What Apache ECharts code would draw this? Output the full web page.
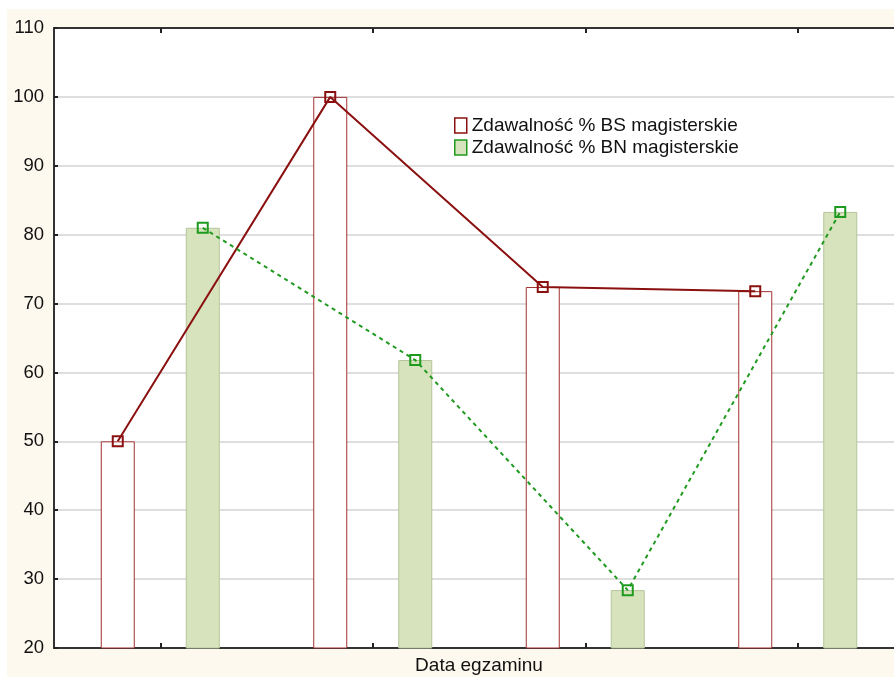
<!DOCTYPE html>
<html>
<head>
<meta charset="utf-8">
<script src="https://cdn.jsdelivr.net/npm/echarts@6/dist/echarts.min.js"></script>
<style>
html,body{margin:0;padding:0;background:#fff;}
#wrap{position:relative;width:894px;height:677px;overflow:hidden;}
#bg{position:absolute;left:7px;top:9px;right:0;bottom:0;background:#fef9ee;}
#plot{position:absolute;left:54px;top:28px;right:0;bottom:29px;background:#fff;}
#chart{position:absolute;left:0;top:0;width:894px;height:677px;}
</style>
</head>
<body>
<div id="wrap"><div id="bg"></div><div id="plot"></div><div id="chart"></div></div>
<script>
const categories = ['Termin 1', 'Termin 2', 'Termin 3', 'Termin 4'];
const bsValues = [50, 100, 72.4, 71.8];
const bnValues = [81, 61.8, 28.4, 83.3];
const seriesNames = ['Zdawalność % BS magisterskie', 'Zdawalność % BN magisterskie'];
const yTicks = { min: 20, max: 110, interval: 10 };

const gridLeft = 54, gridTop = 28, gridWidth = 850, gridHeight = 620;
const barW = 34, gapW = 51;
const catW = gridWidth / categories.length;
const off = (barW + gapW) / 2 / catW;

const bsLine = bsValues.map((v, i) => [i - off, v]);
const bnLine = bnValues.map((v, i) => [i + off, v]);

const BS_DARK = '#8b1010', BS_BORDER = '#a33030';
const BN_DARK = '#1f9a1f', BN_FILL = '#d7e3bd', BN_BORDER = '#b4c59a';
const FONT = 'Liberation Sans, Arial, sans-serif';

const chart = echarts.init(document.getElementById('chart'), null, { renderer: 'canvas' });
chart.setOption({
  backgroundColor: 'transparent',
  animation: false,
  textStyle: { fontFamily: FONT },
  grid: { left: gridLeft, top: gridTop, width: gridWidth, height: gridHeight, show: false, containLabel: false, outerBoundsMode: 'none' },
  legend: {
    orient: 'vertical', left: 449, top: 111, itemGap: 3, itemWidth: 12, itemHeight: 15,
    textStyle: { fontSize: 19, color: '#111', fontFamily: FONT },
    data: [
      { name: seriesNames[0], icon: 'rect', itemStyle: { color: '#ffffff', borderColor: BS_DARK, borderWidth: 1.5 } },
      { name: seriesNames[1], icon: 'rect', itemStyle: { color: BN_FILL, borderColor: BN_DARK, borderWidth: 1.5 } }
    ]
  },
  xAxis: [
    {
      type: 'category', data: categories, position: 'bottom', boundaryGap: true,
      axisLine: { onZero: false, lineStyle: { color: '#333', width: 2 } },
      axisTick: { show: true, inside: true, length: 5, alignWithLabel: true, lineStyle: { color: '#222', width: 2 } },
      axisLabel: { show: false },
      name: 'Data egzaminu', nameLocation: 'middle', nameGap: 8,
      nameTextStyle: { fontSize: 19, color: '#111', fontFamily: FONT }
    },
    {
      type: 'category', data: categories, position: 'top', boundaryGap: true,
      axisLine: { onZero: false, lineStyle: { color: '#333', width: 2 } },
      axisTick: { show: true, inside: true, length: 5, alignWithLabel: true, lineStyle: { color: '#222', width: 2 } },
      axisLabel: { show: false }
    },
    {
      type: 'value', min: -0.5, max: categories.length - 0.5, show: false
    }
  ],
  yAxis: {
    type: 'value', min: yTicks.min, max: yTicks.max, interval: yTicks.interval,
    axisLine: { show: true, onZero: false, lineStyle: { color: '#333', width: 2 } },
    axisTick: { show: true, inside: true, length: 4, lineStyle: { color: '#222', width: 2 } },
    axisLabel: { fontSize: 18.5, color: '#111', margin: 10, fontFamily: FONT },
    splitLine: { lineStyle: { color: '#dedede', width: 2 } }
  },
  series: [
    {
      name: seriesNames[0], type: 'bar', xAxisIndex: 0, data: bsValues,
      barWidth: barW, barGap: (gapW / barW * 100) + '%',
      itemStyle: { color: '#ffffff', borderColor: BS_BORDER, borderWidth: 1 }
    },
    {
      name: seriesNames[1], type: 'bar', xAxisIndex: 0, data: bnValues,
      barWidth: barW,
      itemStyle: { color: BN_FILL, borderColor: BN_BORDER, borderWidth: 1 }
    },
    {
      name: seriesNames[0], type: 'line', xAxisIndex: 2, data: bsLine,
      symbol: 'rect', symbolSize: 10, z: 5,
      lineStyle: { color: BS_DARK, width: 2 },
      itemStyle: { color: 'rgba(255,255,255,0)', borderColor: BS_DARK, borderWidth: 2 }
    },
    {
      name: seriesNames[1], type: 'line', xAxisIndex: 2, data: bnLine,
      symbol: 'rect', symbolSize: 10, z: 5,
      lineStyle: { color: BN_DARK, width: 2, type: [4, 4] },
      itemStyle: { color: 'rgba(255,255,255,0)', borderColor: BN_DARK, borderWidth: 2 }
    }
  ]
});
</script>
</body>
</html>
